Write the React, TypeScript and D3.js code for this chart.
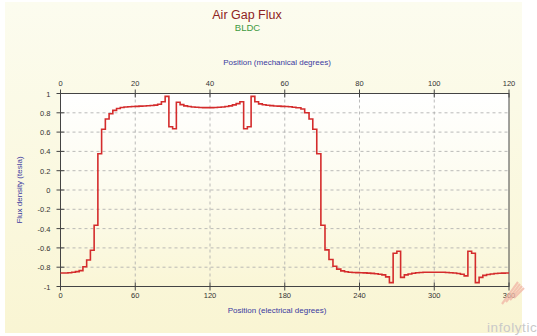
import React from "react";
import * as d3 from "d3";

// breakpoints (electrical degrees) and flux density held from each one (tesla)
const angle = [
  0, 3, 6, 9, 12, 15, 18, 21, 24, 27, 30, 33, 36, 39, 42, 45, 48, 51, 54, 57,
  60, 63, 66, 69, 72, 75, 78, 81, 84, 87, 90, 93, 96, 99, 102, 105, 108, 111,
  114, 117, 120, 123, 126, 129, 132, 135, 138, 141, 144, 147, 150, 153, 156,
  159, 162, 165, 168, 171, 174, 177, 180, 183, 186, 189, 193, 196, 199.5,
  202.5, 205.7, 209, 212.3, 215.5, 218.7, 221.7, 225, 228, 231, 234, 237, 240,
  243, 246, 249, 252, 255, 258, 261, 264, 267, 270, 273, 276, 279, 282, 285,
  288, 291, 294, 297, 300, 303, 306, 309, 312, 315, 318, 321, 324, 327, 330,
  333, 336, 339, 342, 345, 348, 351, 354, 357, 360,
];
const flux = [
  -0.86, -0.86, -0.857, -0.852, -0.846, -0.835, -0.795, -0.725, -0.625, -0.365,
  0.375, 0.63, 0.735, 0.79, 0.825, 0.845, 0.855, 0.86, 0.863, 0.865, 0.867,
  0.869, 0.871, 0.873, 0.876, 0.88, 0.888, 0.915, 0.97, 0.655, 0.635, 0.91,
  0.885, 0.872, 0.865, 0.86, 0.857, 0.855, 0.854, 0.854, 0.854, 0.855, 0.857,
  0.86, 0.865, 0.872, 0.882, 0.895, 0.915, 0.635, 0.655, 0.97, 0.915, 0.893,
  0.884, 0.878, 0.874, 0.871, 0.869, 0.867, 0.865, 0.862, 0.858, 0.852, 0.84,
  0.8, 0.735, 0.63, 0.375, -0.365, -0.62, -0.72, -0.79, -0.82, -0.838, -0.847,
  -0.852, -0.855, -0.856, -0.857, -0.859, -0.861, -0.864, -0.868, -0.873,
  -0.88, -0.9, -0.96, -0.655, -0.635, -0.905, -0.88, -0.87, -0.863, -0.858,
  -0.855, -0.853, -0.852, -0.852, -0.852, -0.852, -0.853, -0.855, -0.857,
  -0.86, -0.865, -0.873, -0.89, -0.635, -0.655, -0.96, -0.905, -0.885, -0.875,
  -0.87, -0.866, -0.863, -0.861, -0.86, -0.86,
];

const elecTicks = [0, 60, 120, 180, 240, 300, 360];
const mechTicks = [0, 20, 40, 60, 80, 100, 120];
const fluxTicks = [1, 0.8, 0.6, 0.4, 0.2, 0, -0.2, -0.4, -0.6, -0.8, -1];

const W = 537;
const H = 336;
const margin = { top: 93.5, right: 28, bottom: 49.5, left: 60.5 };
const font = "Arial, 'Liberation Sans', sans-serif";

export default function App() {
  const x = d3.scaleLinear().domain([0, 360]).range([margin.left, W - margin.right]);
  const xMech = d3.scaleLinear().domain([0, 120]).range([margin.left, W - margin.right]);
  const y = d3.scaleLinear().domain([-1, 1]).range([H - margin.bottom, margin.top]);

  const pts = angle.map((a, i) => [a, flux[i]] as [number, number]);
  const line = d3
    .line<[number, number]>()
    .x((d) => x(d[0]))
    .y((d) => y(d[1]))
    .curve(d3.curveStepAfter);

  const x0 = x(0);
  const x1 = x(360);
  const yTop = y(1);
  const yBot = y(-1);
  const axisColor = "#444";
  const labelColor = "#333";

  return (
    <svg
      width={W}
      height={H}
      style={{ position: "absolute", left: 0, top: 0, background: "#fff" }}
      fontFamily={font}
    >
      <defs>
        <linearGradient id="panel" x1="0" y1="0" x2="0" y2="1">
          <stop offset="0" stopColor="#fcfcef" />
          <stop offset="1" stopColor="#f9f5d3" />
        </linearGradient>
        <linearGradient id="plot" x1="0" y1="0" x2="0" y2="1">
          <stop offset="0" stopColor="#ffffff" />
          <stop offset="0.45" stopColor="#fdfcf0" />
          <stop offset="1" stopColor="#faf6d6" />
        </linearGradient>
      </defs>
      <rect x={5} y={2} width={517} height={331} fill="url(#panel)" />
      <rect x={x0} y={yTop} width={x1 - x0} height={yBot - yTop} fill="url(#plot)" />

      {/* titles */}
      <text x={247} y={19} textAnchor="middle" fontSize={12.5} fill="#8e2323">
        Air Gap Flux
      </text>
      <text x={247.5} y={30.5} textAnchor="middle" fontSize={9.5} fill="#3f9a3f">
        BLDC
      </text>
      <text x={277} y={65} textAnchor="middle" fontSize={8} fill="#3a3aa0">
        Position (mechanical degrees)
      </text>
      <text x={277} y={313} textAnchor="middle" fontSize={8} fill="#3a3aa0">
        Position (electrical degrees)
      </text>
      <text
        transform={`translate(22,${(yTop + yBot) / 2}) rotate(-90)`}
        textAnchor="middle"
        fontSize={8}
        fill="#3a3aa0"
      >
        Flux density (tesla)
      </text>

      {/* grid */}
      {fluxTicks
        .filter((t) => t !== 1 && t !== -1)
        .map((t) => (
          <line
            key={"gy" + t}
            x1={x0}
            x2={x1}
            y1={y(t)}
            y2={y(t)}
            stroke="#aaa"
            strokeWidth={0.8}
            strokeDasharray="3,3"
          />
        ))}
      {elecTicks
        .filter((t) => t !== 0 && t !== 360)
        .map((t) => (
          <line
            key={"gx" + t}
            x1={x(t)}
            x2={x(t)}
            y1={yTop}
            y2={yBot}
            stroke="#aaa"
            strokeWidth={0.8}
            strokeDasharray="3,3"
          />
        ))}

      {/* frame */}
      <rect x={x0} y={yTop} width={x1 - x0} height={yBot - yTop} fill="none" stroke={axisColor} strokeWidth={1} />

      {/* left axis */}
      {fluxTicks.map((t) => (
        <g key={"ty" + t}>
          <line x1={x0 - 4} x2={x0 + 4} y1={y(t)} y2={y(t)} stroke={axisColor} />
          <text x={x0 - 10} y={y(t) + 3} textAnchor="end" fontSize={7.5} fill={labelColor}>
            {String(t)}
          </text>
        </g>
      ))}

      {/* bottom axis (electrical) */}
      {elecTicks.map((t) => (
        <g key={"tx" + t}>
          <line x1={x(t)} x2={x(t)} y1={yBot - 4} y2={yBot + 4} stroke={axisColor} />
          <text x={x(t)} y={298} textAnchor="middle" fontSize={7.5} fill={labelColor}>
            {t}
          </text>
        </g>
      ))}

      {/* top axis (mechanical) */}
      {mechTicks.map((t) => (
        <g key={"tm" + t}>
          <line x1={xMech(t)} x2={xMech(t)} y1={yTop - 4} y2={yTop + 4} stroke={axisColor} />
          <text x={xMech(t)} y={86} textAnchor="middle" fontSize={7.5} fill={labelColor}>
            {t}
          </text>
        </g>
      ))}

      {/* curve */}
      <path d={line(pts) || ""} fill="none" stroke="#d42c2c" strokeWidth={1.6} strokeLinejoin="miter" />

      {/* watermark */}
      <g stroke="#f2b8a8" strokeWidth={2.2} opacity={0.8}>
        {[0, 1, 2, 3].map((i) => (
          <line key={"wm" + i} x1={502 + i * 4} y1={304 - i * 2} x2={518 + i * 2} y2={282 + i * 2} />
        ))}
      </g>
      <text x={487} y={332} fontSize={13.5} fill="#c9c9c9" letterSpacing={0.6}>
        infolytic
      </text>
    </svg>
  );
}
